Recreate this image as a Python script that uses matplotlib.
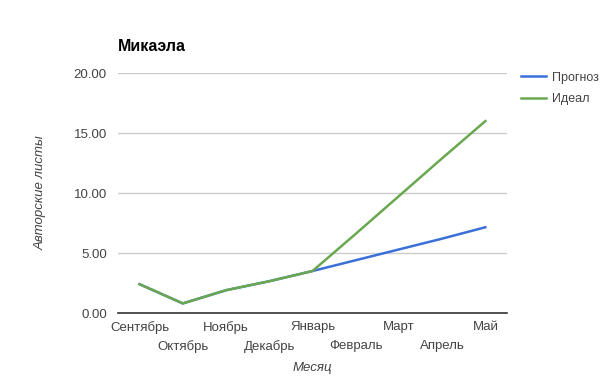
import matplotlib.pyplot as plt

plt.rcParams['font.family'] = ['Liberation Sans', 'DejaVu Sans']

months = ['Сентябрь', 'Октябрь', 'Ноябрь', 'Декабрь', 'Январь',
          'Февраль', 'Март', 'Апрель', 'Май']
forecast = [2.4, 0.8, 1.9, 2.65, 3.5, 4.4, 5.3, 6.2, 7.15]
ideal = [2.4, 0.8, 1.9, 2.65, 3.5, 6.6, 9.75, 12.9, 16.0]
yticks = [0, 5, 10, 15, 20]

fig = plt.figure(figsize=(6.05, 3.82), dpi=100)
ax = fig.add_axes([0.195, 0.1806, 0.643, 0.628])

x = list(range(len(months)))
ax.plot(x, forecast, color='#3c6fd9', lw=1.8, label='Прогноз', zorder=3)
ax.plot(x, ideal, color='#6aa84f', lw=1.8, label='Идеал', zorder=4)

ax.set_xlim(-0.5, len(months) - 0.5)
ax.set_ylim(0, 20)
ax.set_yticks(yticks)
ax.set_yticklabels([f'{v:.2f}' for v in yticks], color='#444444', fontsize=9.5)
ax.yaxis.grid(True, color='#cccccc', lw=1)
ax.set_axisbelow(True)
for s in ['top', 'right', 'left']:
    ax.spines[s].set_visible(False)
ax.spines['bottom'].set_color('#333333')
ax.spines['bottom'].set_linewidth(1.2)
ax.tick_params(length=0, pad=8)

ax.set_xticks(x)
ax.set_xticklabels([])
for i, m in enumerate(months):
    ax.annotate(m, (i, 0), xycoords=('data', 'axes fraction'),
                xytext=(0, -6 if i % 2 == 0 else -19.5), textcoords='offset points',
                ha='center', va='top', color='#444444', fontsize=9.5)

fig.text(0.195, 0.866, 'Микаэла', fontsize=11.5, fontweight='bold', color='black')
fig.text(0.067, 0.495, 'Авторские листы', rotation=90, style='italic',
         color='#444444', fontsize=9.5, ha='center', va='center')
fig.text(0.516, 0.037, 'Месяц', style='italic', color='#444444',
         fontsize=9.5, ha='center', va='center')

fig.legend(loc='upper left', bbox_to_anchor=(0.861, 0.812), frameon=False,
           borderpad=0, borderaxespad=0,
           fontsize=9, handlelength=2.0, handletextpad=0.5, labelspacing=0.75,
           labelcolor='#444444')

fig.savefig('out.png', dpi=100)
